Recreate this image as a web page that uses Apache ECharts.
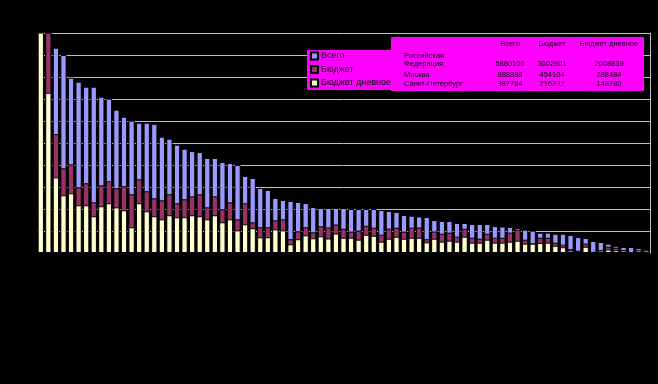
<!DOCTYPE html>
<html>
<head>
<meta charset="utf-8">
<script src="https://cdn.jsdelivr.net/npm/echarts@6/dist/echarts.min.js"></script>
<style>
html,body{margin:0;padding:0;background:#000;}
#chart{width:658px;height:384px;}
</style>
</head>
<body>
<div id="chart"></div>
<script>
// ---- DATA ----
var seriesNames = ['Всего', 'Бюджет', 'Бюджет дневное'];

var categories = ['Москва','Санкт-Петербург','3','4','5','6','7','8','9','10',
'11','12','13','14','15','16','17','18','19','20',
'21','22','23','24','25','26','27','28','29','30',
'31','32','33','34','35','36','37','38','39','40',
'41','42','43','44','45','46','47','48','49','50',
'51','52','53','54','55','56','57','58','59','60',
'61','62','63','64','65','66','67','68','69','70',
'71','72','73','74','75','76','77','78','79','80','81'];

var vsego = [888888,387784,186600,180000,159400,155700,151200,151200,142100,140300,
130300,123900,120300,118500,118500,117500,105700,103900,98500,94800,
92700,91800,86400,86400,82700,81800,80000,70000,68200,59100,
57300,50000,48200,47300,46400,45500,41800,40900,40900,40900,
40900,40000,40000,40000,40000,39100,38200,37300,34500,33900,
33200,32700,30000,29100,29100,27300,27300,26400,26400,26400,
24500,24100,23600,22700,21200,20300,18500,18500,17500,17500,
16500,14500,13600,10900,10000,8500,6500,5500,5500,4500,3800];

var byudzhet = [454104,216232,108200,77000,80600,59700,63400,46100,61500,65200,
58800,60600,53400,67000,56100,49700,47900,53400,45200,48800,
51500,53400,41500,51500,39700,46100,30600,45200,27900,23400,
23400,29700,30600,12500,19700,23400,18800,24300,23200,25900,
22100,19400,20300,24800,23000,16600,22100,23000,19400,23000,
23200,12500,19500,17500,18500,14800,22100,13900,13000,17500,
13900,13900,18500,21200,12100,8700,13900,13900,9400,7500,
3400,2100,8500,1000,2700,5700,4800,2500,0,2300,3500];

var dnevnoe = [288484,145700,68800,52500,54300,43400,43400,33400,42500,45200,
41500,38800,23400,45200,37900,33400,30600,34300,32500,32500,
34300,33400,30600,34300,27900,30600,20600,26100,22500,14300,
14300,21500,20600,7900,12500,16100,13400,15200,13200,17700,
13900,13900,12100,16600,15700,10300,13000,14800,13000,13900,
13900,9700,13000,10300,11200,10300,14800,9400,9400,12100,
9400,9400,10300,11200,8500,8500,9100,9400,6600,5200,
2300,1400,5700,900,2300,3200,2500,2300,0,2300,2300];

// summary table
var tableHeaders = ['Всего', 'Бюджет', 'Бюджет дневное'];
var tableRowLabels = [['Российская', 'Федерация'], ['Москва'], ['Санкт-Петербург']];
var tableVsego = ['5880100', '888888', '387784'];
var tableByudzhet = ['3002801', '454104', '216232'];
var tableDnevnoe = ['2008839', '288484', '148780'];

// ---- CHART ----
var colors = ['#9999FF', '#993366', '#FFFFCC'];
var FONT = '"Liberation Sans", Arial, sans-serif';

var chart = echarts.init(document.getElementById('chart'));

function barSeries(name, data, color) {
  return {
    name: name,
    type: 'bar',
    data: data,
    barGap: '-100%',
    barCategoryGap: '17%',
    itemStyle: { color: color, borderColor: '#000', borderWidth: 1 },
    emphasis: { disabled: true },
    animation: false
  };
}

// table graphics
var g = [];
g.push({ type: 'rect', z: 3, shape: { x: 391, y: 37, width: 253, height: 54 }, style: { fill: '#FF00FF' } });
g.push({ type: 'rect', z: 3, shape: { x: 307, y: 50, width: 85, height: 40 }, style: { fill: '#FF00FF' } });
var colX = [510, 552, 609];
var rowY = [63.5, 75, 84];
for (var i = 0; i < tableHeaders.length; i++) {
  g.push({ type: 'text', z: 5, x: colX[i], y: 44,
    style: { text: tableHeaders[i], fill: '#000', font: '7.5px ' + FONT, textAlign: 'center', textVerticalAlign: 'middle' } });
}
var cols = [tableVsego, tableByudzhet, tableDnevnoe];
for (var r = 0; r < tableRowLabels.length; r++) {
  var lbl = tableRowLabels[r];
  for (var k = 0; k < lbl.length; k++) {
    var yy = rowY[r] - (lbl.length - 1 - k) * 7.5;
    g.push({ type: 'text', z: 5, x: 404, y: yy,
      style: { text: lbl[k], fill: '#000', font: '7.5px ' + FONT, textAlign: 'left', textVerticalAlign: 'middle' } });
  }
  for (var c = 0; c < cols.length; c++) {
    g.push({ type: 'text', z: 5, x: colX[c], y: rowY[r],
      style: { text: cols[c][r], fill: '#000', font: '7.5px ' + FONT, textAlign: 'center', textVerticalAlign: 'middle' } });
  }
}

var gridColors = ['#000000'];
for (var q = 0; q < 10; q++) gridColors.push('#C0C0C0');

chart.setOption({
  backgroundColor: '#000',
  animation: false,
  grid: { left: 37, right: 8, top: 33, bottom: 131, containLabel: false },
  xAxis: {
    type: 'category',
    data: categories,
    axisLine: { show: false },
    axisTick: { show: false },
    axisLabel: { show: false },
    splitLine: { show: false }
  },
  yAxis: {
    type: 'value',
    position: 'right',
    min: 0,
    max: 200000,
    interval: 20000,
    axisLine: { show: true, lineStyle: { color: '#C0C0C0', width: 1 } },
    axisTick: { show: false },
    axisLabel: { show: false },
    splitLine: { show: true, lineStyle: { color: gridColors, width: 1 } }
  },
  legend: {
    data: seriesNames,
    orient: 'vertical',
    left: 310,
    top: 51,
    padding: 0,
    itemGap: 3.5,
    itemWidth: 7,
    itemHeight: 7,
    z: 6,
    selectedMode: false,
    icon: 'rect',
    textStyle: { color: '#000', fontSize: 9, lineHeight: 10, fontFamily: FONT, padding: [0, 0, 0, -2] }
  },
  graphic: g,
  series: [
    barSeries(seriesNames[0], vsego, colors[0]),
    barSeries(seriesNames[1], byudzhet, colors[1]),
    barSeries(seriesNames[2], dnevnoe, colors[2])
  ]
});
</script>
</body>
</html>
